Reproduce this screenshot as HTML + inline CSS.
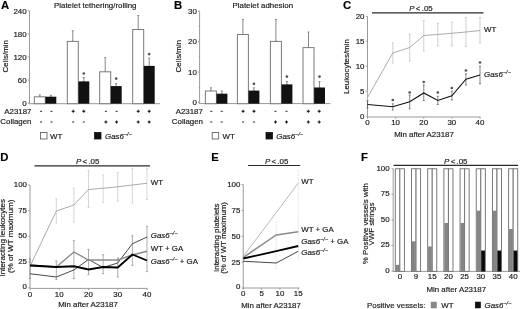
<!DOCTYPE html>
<html><head><meta charset="utf-8"><style>
html,body{margin:0;padding:0;background:#fff;width:520px;height:309px;overflow:hidden}
svg{display:block;will-change:transform}
text{font-family:"Liberation Sans",sans-serif;stroke:#1a1a1a;stroke-width:0.18px}
</style></head><body>
<svg width="520" height="309" viewBox="0 0 520 309">
<rect width="520" height="309" fill="#fff"/>
<text x="1.1" y="8.8" font-size="11.3" text-anchor="start" font-weight="bold" font-style="normal" fill="#000" >A</text>
<text x="54" y="8.3" font-size="7.9" text-anchor="start" font-weight="normal" font-style="normal" fill="#1a1a1a" >Platelet tethering/rolling</text>
<line x1="29.5" y1="10.8" x2="29.5" y2="104.2" stroke="#9a9a9a" stroke-width="1" />
<line x1="29.5" y1="103.7" x2="159.9" y2="103.7" stroke="#9a9a9a" stroke-width="1" />
<line x1="27.8" y1="103.2" x2="29.5" y2="103.2" stroke="#9a9a9a" stroke-width="1" />
<text x="26.6" y="106.0" font-size="7.9" text-anchor="end" font-weight="normal" font-style="normal" fill="#1a1a1a" >0</text>
<line x1="27.8" y1="80.1" x2="29.5" y2="80.1" stroke="#9a9a9a" stroke-width="1" />
<text x="26.6" y="82.89999999999999" font-size="7.9" text-anchor="end" font-weight="normal" font-style="normal" fill="#1a1a1a" >60</text>
<line x1="27.8" y1="57.0" x2="29.5" y2="57.0" stroke="#9a9a9a" stroke-width="1" />
<text x="26.6" y="59.8" font-size="7.9" text-anchor="end" font-weight="normal" font-style="normal" fill="#1a1a1a" >120</text>
<line x1="27.8" y1="33.900000000000006" x2="29.5" y2="33.900000000000006" stroke="#9a9a9a" stroke-width="1" />
<text x="26.6" y="36.7" font-size="7.9" text-anchor="end" font-weight="normal" font-style="normal" fill="#1a1a1a" >180</text>
<line x1="27.8" y1="10.799999999999997" x2="29.5" y2="10.799999999999997" stroke="#9a9a9a" stroke-width="1" />
<text x="26.6" y="13.599999999999998" font-size="7.9" text-anchor="end" font-weight="normal" font-style="normal" fill="#1a1a1a" >240</text>
<text transform="translate(7.9,56.3) rotate(-90)" font-size="7.9" text-anchor="middle" fill="#1a1a1a">Cells/min</text>
<line x1="39.8" y1="94.9" x2="39.8" y2="96.8" stroke="#888" stroke-width="1.0" />
<line x1="38.8" y1="94.9" x2="40.8" y2="94.9" stroke="#888" stroke-width="1.0" />
<line x1="38.8" y1="96.8" x2="40.8" y2="96.8" stroke="#888" stroke-width="1.0" />
<rect x="34.3" y="96.8" width="11.0" height="6.900000000000006" fill="#fff" stroke="#7a7a7a" stroke-width="1.0"/>
<line x1="50.8" y1="95.3" x2="50.8" y2="97.1" stroke="#888" stroke-width="1.0" />
<line x1="49.8" y1="95.3" x2="51.8" y2="95.3" stroke="#888" stroke-width="1.0" />
<line x1="49.8" y1="97.1" x2="51.8" y2="97.1" stroke="#888" stroke-width="1.0" />
<rect x="45.4" y="96.69999999999999" width="10.9" height="7.000000000000009" fill="#111" stroke="none" stroke-width="0"/>
<line x1="72.8" y1="30.8" x2="72.8" y2="41.4" stroke="#888" stroke-width="1.0" />
<line x1="71.8" y1="30.8" x2="73.8" y2="30.8" stroke="#888" stroke-width="1.0" />
<line x1="71.8" y1="41.4" x2="73.8" y2="41.4" stroke="#888" stroke-width="1.0" />
<rect x="67.3" y="41.4" width="11.0" height="62.300000000000004" fill="#fff" stroke="#7a7a7a" stroke-width="1.0"/>
<line x1="83.8" y1="77.5" x2="83.8" y2="81.8" stroke="#888" stroke-width="1.0" />
<line x1="82.8" y1="77.5" x2="84.8" y2="77.5" stroke="#888" stroke-width="1.0" />
<line x1="82.8" y1="81.8" x2="84.8" y2="81.8" stroke="#888" stroke-width="1.0" />
<rect x="78.39999999999999" y="81.39999999999999" width="10.9" height="22.300000000000004" fill="#111" stroke="none" stroke-width="0"/>
<circle cx="83.8" cy="73.5" r="1.35" fill="#555"/>
<line x1="105.2" y1="57.7" x2="105.2" y2="71.8" stroke="#888" stroke-width="1.0" />
<line x1="104.2" y1="57.7" x2="106.2" y2="57.7" stroke="#888" stroke-width="1.0" />
<line x1="104.2" y1="71.8" x2="106.2" y2="71.8" stroke="#888" stroke-width="1.0" />
<rect x="99.7" y="71.8" width="11.0" height="31.900000000000006" fill="#fff" stroke="#7a7a7a" stroke-width="1.0"/>
<line x1="116.2" y1="83.6" x2="116.2" y2="86.5" stroke="#888" stroke-width="1.0" />
<line x1="115.2" y1="83.6" x2="117.2" y2="83.6" stroke="#888" stroke-width="1.0" />
<line x1="115.2" y1="86.5" x2="117.2" y2="86.5" stroke="#888" stroke-width="1.0" />
<rect x="110.8" y="86.1" width="10.9" height="17.6" fill="#111" stroke="none" stroke-width="0"/>
<circle cx="116.2" cy="78.6" r="1.35" fill="#555"/>
<line x1="138.2" y1="15.6" x2="138.2" y2="29.5" stroke="#888" stroke-width="1.0" />
<line x1="137.2" y1="15.6" x2="139.2" y2="15.6" stroke="#888" stroke-width="1.0" />
<line x1="137.2" y1="29.5" x2="139.2" y2="29.5" stroke="#888" stroke-width="1.0" />
<rect x="132.7" y="29.5" width="11.0" height="74.2" fill="#fff" stroke="#7a7a7a" stroke-width="1.0"/>
<line x1="149.2" y1="58.2" x2="149.2" y2="66.3" stroke="#888" stroke-width="1.0" />
<line x1="148.2" y1="58.2" x2="150.2" y2="58.2" stroke="#888" stroke-width="1.0" />
<line x1="148.2" y1="66.3" x2="150.2" y2="66.3" stroke="#888" stroke-width="1.0" />
<rect x="143.79999999999998" y="65.89999999999999" width="10.9" height="37.800000000000004" fill="#111" stroke="none" stroke-width="0"/>
<circle cx="149.2" cy="54.1" r="1.35" fill="#555"/>
<text x="31.5" y="113.8" font-size="7.9" text-anchor="end" font-weight="normal" font-style="normal" fill="#1a1a1a" >A23187</text>
<text x="31.5" y="123.6" font-size="7.9" text-anchor="end" font-weight="normal" font-style="normal" fill="#1a1a1a" >Collagen</text>
<line x1="40.1" y1="111.3" x2="42.1" y2="111.3" stroke="#222" stroke-width="1.0" />
<line x1="40.1" y1="122.0" x2="42.1" y2="122.0" stroke="#222" stroke-width="1.0" />
<line x1="50.5" y1="111.3" x2="52.5" y2="111.3" stroke="#222" stroke-width="1.0" />
<line x1="50.5" y1="122.0" x2="52.5" y2="122.0" stroke="#222" stroke-width="1.0" />
<line x1="71.7" y1="111.3" x2="74.7" y2="111.3" stroke="#111" stroke-width="1.05" />
<line x1="73.2" y1="109.8" x2="73.2" y2="112.8" stroke="#111" stroke-width="1.05" />
<line x1="72.2" y1="122.0" x2="74.2" y2="122.0" stroke="#222" stroke-width="1.0" />
<line x1="82.3" y1="111.3" x2="85.3" y2="111.3" stroke="#111" stroke-width="1.05" />
<line x1="83.8" y1="109.8" x2="83.8" y2="112.8" stroke="#111" stroke-width="1.05" />
<line x1="82.8" y1="122.0" x2="84.8" y2="122.0" stroke="#222" stroke-width="1.0" />
<line x1="104.9" y1="111.3" x2="106.9" y2="111.3" stroke="#222" stroke-width="1.0" />
<line x1="104.4" y1="122.0" x2="107.4" y2="122.0" stroke="#111" stroke-width="1.05" />
<line x1="105.9" y1="120.5" x2="105.9" y2="123.5" stroke="#111" stroke-width="1.05" />
<line x1="115.6" y1="111.3" x2="117.6" y2="111.3" stroke="#222" stroke-width="1.0" />
<line x1="115.1" y1="122.0" x2="118.1" y2="122.0" stroke="#111" stroke-width="1.05" />
<line x1="116.6" y1="120.5" x2="116.6" y2="123.5" stroke="#111" stroke-width="1.05" />
<line x1="136.7" y1="111.3" x2="139.7" y2="111.3" stroke="#111" stroke-width="1.05" />
<line x1="138.2" y1="109.8" x2="138.2" y2="112.8" stroke="#111" stroke-width="1.05" />
<line x1="136.7" y1="122.0" x2="139.7" y2="122.0" stroke="#111" stroke-width="1.05" />
<line x1="138.2" y1="120.5" x2="138.2" y2="123.5" stroke="#111" stroke-width="1.05" />
<line x1="147.7" y1="111.3" x2="150.7" y2="111.3" stroke="#111" stroke-width="1.05" />
<line x1="149.2" y1="109.8" x2="149.2" y2="112.8" stroke="#111" stroke-width="1.05" />
<line x1="147.7" y1="122.0" x2="150.7" y2="122.0" stroke="#111" stroke-width="1.05" />
<line x1="149.2" y1="120.5" x2="149.2" y2="123.5" stroke="#111" stroke-width="1.05" />
<rect x="40.5" y="132.5" width="6.5" height="6.5" fill="#fff" stroke="#555" stroke-width="0.8"/>
<text x="50" y="138.8" font-size="7.9" text-anchor="start" font-weight="normal" font-style="normal" fill="#1a1a1a" >WT</text>
<rect x="94.5" y="132.5" width="6.5" height="6.5" fill="#111" stroke="#111" stroke-width="0.8"/>
<text x="105" y="138.8" font-size="7.9" text-anchor="start" fill="#1a1a1a"><tspan font-style="italic">Gas6</tspan><tspan font-style="italic" font-size="5.53" dy="-3">−/−</tspan><tspan dy="3"></tspan></text>
<text x="174.0" y="9.0" font-size="11.3" text-anchor="start" font-weight="bold" font-style="normal" fill="#000" >B</text>
<text x="232.5" y="8.3" font-size="7.9" text-anchor="start" font-weight="normal" font-style="normal" fill="#1a1a1a" >Platelet adhesion</text>
<line x1="199.6" y1="11.1" x2="199.6" y2="104.1" stroke="#9a9a9a" stroke-width="1" />
<line x1="199.6" y1="103.6" x2="330.4" y2="103.6" stroke="#9a9a9a" stroke-width="1" />
<line x1="197.9" y1="102.6" x2="199.6" y2="102.6" stroke="#9a9a9a" stroke-width="1" />
<text x="196.9" y="105.39999999999999" font-size="7.9" text-anchor="end" font-weight="normal" font-style="normal" fill="#1a1a1a" >0</text>
<line x1="197.9" y1="72.1" x2="199.6" y2="72.1" stroke="#9a9a9a" stroke-width="1" />
<text x="196.9" y="74.89999999999999" font-size="7.9" text-anchor="end" font-weight="normal" font-style="normal" fill="#1a1a1a" >10</text>
<line x1="197.9" y1="41.599999999999994" x2="199.6" y2="41.599999999999994" stroke="#9a9a9a" stroke-width="1" />
<text x="196.9" y="44.39999999999999" font-size="7.9" text-anchor="end" font-weight="normal" font-style="normal" fill="#1a1a1a" >20</text>
<line x1="197.9" y1="11.099999999999994" x2="199.6" y2="11.099999999999994" stroke="#9a9a9a" stroke-width="1" />
<text x="196.9" y="13.899999999999995" font-size="7.9" text-anchor="end" font-weight="normal" font-style="normal" fill="#1a1a1a" >30</text>
<line x1="198.6" y1="87.35" x2="199.6" y2="87.35" stroke="#9a9a9a" stroke-width="1" />
<line x1="198.6" y1="56.849999999999994" x2="199.6" y2="56.849999999999994" stroke="#9a9a9a" stroke-width="1" />
<line x1="198.6" y1="26.349999999999994" x2="199.6" y2="26.349999999999994" stroke="#9a9a9a" stroke-width="1" />
<text transform="translate(180.6,56.2) rotate(-90)" font-size="7.9" text-anchor="middle" fill="#1a1a1a">Cells/min</text>
<line x1="210.9" y1="87.8" x2="210.9" y2="91.0" stroke="#888" stroke-width="1.0" />
<line x1="209.9" y1="87.8" x2="211.9" y2="87.8" stroke="#888" stroke-width="1.0" />
<line x1="209.9" y1="91.0" x2="211.9" y2="91.0" stroke="#888" stroke-width="1.0" />
<rect x="205.4" y="91.0" width="11.0" height="12.700000000000003" fill="#fff" stroke="#7a7a7a" stroke-width="1.0"/>
<line x1="221.9" y1="91.0" x2="221.9" y2="94.1" stroke="#888" stroke-width="1.0" />
<line x1="220.9" y1="91.0" x2="222.9" y2="91.0" stroke="#888" stroke-width="1.0" />
<line x1="220.9" y1="94.1" x2="222.9" y2="94.1" stroke="#888" stroke-width="1.0" />
<rect x="216.5" y="93.69999999999999" width="10.9" height="10.000000000000009" fill="#111" stroke="none" stroke-width="0"/>
<line x1="242.9" y1="19.4" x2="242.9" y2="34.5" stroke="#888" stroke-width="1.0" />
<line x1="241.9" y1="19.4" x2="243.9" y2="19.4" stroke="#888" stroke-width="1.0" />
<line x1="241.9" y1="34.5" x2="243.9" y2="34.5" stroke="#888" stroke-width="1.0" />
<rect x="237.4" y="34.5" width="11.0" height="69.2" fill="#fff" stroke="#7a7a7a" stroke-width="1.0"/>
<line x1="253.9" y1="87.8" x2="253.9" y2="91.0" stroke="#888" stroke-width="1.0" />
<line x1="252.9" y1="87.8" x2="254.9" y2="87.8" stroke="#888" stroke-width="1.0" />
<line x1="252.9" y1="91.0" x2="254.9" y2="91.0" stroke="#888" stroke-width="1.0" />
<rect x="248.5" y="90.6" width="10.9" height="13.100000000000003" fill="#111" stroke="none" stroke-width="0"/>
<circle cx="253.9" cy="83.8" r="1.35" fill="#555"/>
<line x1="275.9" y1="19.4" x2="275.9" y2="41.4" stroke="#888" stroke-width="1.0" />
<line x1="274.9" y1="19.4" x2="276.9" y2="19.4" stroke="#888" stroke-width="1.0" />
<line x1="274.9" y1="41.4" x2="276.9" y2="41.4" stroke="#888" stroke-width="1.0" />
<rect x="270.4" y="41.4" width="11.0" height="62.300000000000004" fill="#fff" stroke="#7a7a7a" stroke-width="1.0"/>
<line x1="286.9" y1="81.6" x2="286.9" y2="84.8" stroke="#888" stroke-width="1.0" />
<line x1="285.9" y1="81.6" x2="287.9" y2="81.6" stroke="#888" stroke-width="1.0" />
<line x1="285.9" y1="84.8" x2="287.9" y2="84.8" stroke="#888" stroke-width="1.0" />
<rect x="281.5" y="84.39999999999999" width="10.9" height="19.300000000000004" fill="#111" stroke="none" stroke-width="0"/>
<circle cx="286.9" cy="76.6" r="1.35" fill="#555"/>
<line x1="308.5" y1="32.0" x2="308.5" y2="47.6" stroke="#888" stroke-width="1.0" />
<line x1="307.5" y1="32.0" x2="309.5" y2="32.0" stroke="#888" stroke-width="1.0" />
<line x1="307.5" y1="47.6" x2="309.5" y2="47.6" stroke="#888" stroke-width="1.0" />
<rect x="303.0" y="47.6" width="11.0" height="56.1" fill="#fff" stroke="#7a7a7a" stroke-width="1.0"/>
<line x1="319.5" y1="81.6" x2="319.5" y2="87.9" stroke="#888" stroke-width="1.0" />
<line x1="318.5" y1="81.6" x2="320.5" y2="81.6" stroke="#888" stroke-width="1.0" />
<line x1="318.5" y1="87.9" x2="320.5" y2="87.9" stroke="#888" stroke-width="1.0" />
<rect x="314.1" y="87.5" width="10.9" height="16.199999999999996" fill="#111" stroke="none" stroke-width="0"/>
<circle cx="319.5" cy="76.6" r="1.35" fill="#555"/>
<text x="202.9" y="113.8" font-size="7.9" text-anchor="end" font-weight="normal" font-style="normal" fill="#1a1a1a" >A23187</text>
<text x="203.0" y="123.6" font-size="7.9" text-anchor="end" font-weight="normal" font-style="normal" fill="#1a1a1a" >Collagen</text>
<line x1="210.3" y1="111.3" x2="212.3" y2="111.3" stroke="#222" stroke-width="1.0" />
<line x1="210.3" y1="122.0" x2="212.3" y2="122.0" stroke="#222" stroke-width="1.0" />
<line x1="220.7" y1="111.3" x2="222.7" y2="111.3" stroke="#222" stroke-width="1.0" />
<line x1="220.7" y1="122.0" x2="222.7" y2="122.0" stroke="#222" stroke-width="1.0" />
<line x1="241.6" y1="111.3" x2="244.6" y2="111.3" stroke="#111" stroke-width="1.05" />
<line x1="243.1" y1="109.8" x2="243.1" y2="112.8" stroke="#111" stroke-width="1.05" />
<line x1="242.1" y1="122.0" x2="244.1" y2="122.0" stroke="#222" stroke-width="1.0" />
<line x1="252.5" y1="111.3" x2="255.5" y2="111.3" stroke="#111" stroke-width="1.05" />
<line x1="254.0" y1="109.8" x2="254.0" y2="112.8" stroke="#111" stroke-width="1.05" />
<line x1="253.0" y1="122.0" x2="255.0" y2="122.0" stroke="#222" stroke-width="1.0" />
<line x1="274.5" y1="111.3" x2="276.5" y2="111.3" stroke="#222" stroke-width="1.0" />
<line x1="274.0" y1="122.0" x2="277.0" y2="122.0" stroke="#111" stroke-width="1.05" />
<line x1="275.5" y1="120.5" x2="275.5" y2="123.5" stroke="#111" stroke-width="1.05" />
<line x1="285.5" y1="111.3" x2="287.5" y2="111.3" stroke="#222" stroke-width="1.0" />
<line x1="285.0" y1="122.0" x2="288.0" y2="122.0" stroke="#111" stroke-width="1.05" />
<line x1="286.5" y1="120.5" x2="286.5" y2="123.5" stroke="#111" stroke-width="1.05" />
<line x1="306.8" y1="111.3" x2="309.8" y2="111.3" stroke="#111" stroke-width="1.05" />
<line x1="308.3" y1="109.8" x2="308.3" y2="112.8" stroke="#111" stroke-width="1.05" />
<line x1="306.8" y1="122.0" x2="309.8" y2="122.0" stroke="#111" stroke-width="1.05" />
<line x1="308.3" y1="120.5" x2="308.3" y2="123.5" stroke="#111" stroke-width="1.05" />
<line x1="317.7" y1="111.3" x2="320.7" y2="111.3" stroke="#111" stroke-width="1.05" />
<line x1="319.2" y1="109.8" x2="319.2" y2="112.8" stroke="#111" stroke-width="1.05" />
<line x1="317.7" y1="122.0" x2="320.7" y2="122.0" stroke="#111" stroke-width="1.05" />
<line x1="319.2" y1="120.5" x2="319.2" y2="123.5" stroke="#111" stroke-width="1.05" />
<rect x="212.2" y="132.5" width="6.5" height="6.5" fill="#fff" stroke="#555" stroke-width="0.8"/>
<text x="222.5" y="138.8" font-size="7.9" text-anchor="start" font-weight="normal" font-style="normal" fill="#1a1a1a" >WT</text>
<rect x="266" y="132.5" width="6.5" height="6.5" fill="#111" stroke="#111" stroke-width="0.8"/>
<text x="276.3" y="138.8" font-size="7.9" text-anchor="start" fill="#1a1a1a"><tspan font-style="italic">Gas6</tspan><tspan font-style="italic" font-size="5.53" dy="-3">−/−</tspan><tspan dy="3"></tspan></text>
<text x="343.0" y="8.9" font-size="11.3" text-anchor="start" font-weight="bold" font-style="normal" fill="#000" >C</text>
<text x="421" y="10.9" font-size="7.9" text-anchor="middle" fill="#1a1a1a" word-spacing="-0.9"><tspan font-style="italic">P</tspan> &lt; .05</text>
<line x1="372" y1="12.8" x2="483.5" y2="12.8" stroke="#2a2a2a" stroke-width="1.2" />
<line x1="367.5" y1="16.25" x2="367.5" y2="117.3" stroke="#9a9a9a" stroke-width="1" />
<line x1="367.5" y1="117" x2="480.5" y2="117" stroke="#9a9a9a" stroke-width="1" />
<line x1="365.8" y1="116.25" x2="367.5" y2="116.25" stroke="#9a9a9a" stroke-width="1" />
<text x="364.5" y="119.05" font-size="7.9" text-anchor="end" font-weight="normal" font-style="normal" fill="#1a1a1a" >0</text>
<line x1="365.8" y1="91.25" x2="367.5" y2="91.25" stroke="#9a9a9a" stroke-width="1" />
<text x="364.5" y="94.05" font-size="7.9" text-anchor="end" font-weight="normal" font-style="normal" fill="#1a1a1a" >5</text>
<line x1="365.8" y1="66.25" x2="367.5" y2="66.25" stroke="#9a9a9a" stroke-width="1" />
<text x="364.5" y="69.05" font-size="7.9" text-anchor="end" font-weight="normal" font-style="normal" fill="#1a1a1a" >10</text>
<line x1="365.8" y1="41.25" x2="367.5" y2="41.25" stroke="#9a9a9a" stroke-width="1" />
<text x="364.5" y="44.05" font-size="7.9" text-anchor="end" font-weight="normal" font-style="normal" fill="#1a1a1a" >15</text>
<line x1="365.8" y1="16.25" x2="367.5" y2="16.25" stroke="#9a9a9a" stroke-width="1" />
<text x="364.5" y="19.05" font-size="7.9" text-anchor="end" font-weight="normal" font-style="normal" fill="#1a1a1a" >20</text>
<line x1="367.5" y1="117" x2="367.5" y2="118.7" stroke="#9a9a9a" stroke-width="1" />
<text x="367.5" y="125" font-size="7.9" text-anchor="middle" font-weight="normal" font-style="normal" fill="#1a1a1a" >0</text>
<line x1="395.625" y1="117" x2="395.625" y2="118.7" stroke="#9a9a9a" stroke-width="1" />
<text x="395.625" y="125" font-size="7.9" text-anchor="middle" font-weight="normal" font-style="normal" fill="#1a1a1a" >10</text>
<line x1="423.75" y1="117" x2="423.75" y2="118.7" stroke="#9a9a9a" stroke-width="1" />
<text x="423.75" y="125" font-size="7.9" text-anchor="middle" font-weight="normal" font-style="normal" fill="#1a1a1a" >20</text>
<line x1="451.875" y1="117" x2="451.875" y2="118.7" stroke="#9a9a9a" stroke-width="1" />
<text x="451.875" y="125" font-size="7.9" text-anchor="middle" font-weight="normal" font-style="normal" fill="#1a1a1a" >30</text>
<line x1="480.0" y1="117" x2="480.0" y2="118.7" stroke="#9a9a9a" stroke-width="1" />
<text x="480.0" y="125" font-size="7.9" text-anchor="middle" font-weight="normal" font-style="normal" fill="#1a1a1a" >40</text>
<text x="424" y="136.5" font-size="7.9" text-anchor="middle" font-weight="normal" font-style="normal" fill="#1a1a1a" >Min after A23187</text>
<text transform="translate(349.3,66.6) rotate(-90)" font-size="7.9" text-anchor="middle" fill="#1a1a1a">Leukocytes/min</text>
<line x1="367.5" y1="90" x2="367.5" y2="100" stroke="#bbb" stroke-width="0.7" />
<line x1="366.5" y1="90" x2="368.5" y2="90" stroke="#bbb" stroke-width="0.7" />
<line x1="366.5" y1="100" x2="368.5" y2="100" stroke="#bbb" stroke-width="0.7" />
<line x1="392.8125" y1="43" x2="392.8125" y2="63" stroke="#bbb" stroke-width="0.7" />
<line x1="391.8125" y1="43" x2="393.8125" y2="43" stroke="#bbb" stroke-width="0.7" />
<line x1="391.8125" y1="63" x2="393.8125" y2="63" stroke="#bbb" stroke-width="0.7" />
<line x1="409.6875" y1="34.5" x2="409.6875" y2="61.25" stroke="#bbb" stroke-width="0.7" />
<line x1="408.6875" y1="34.5" x2="410.6875" y2="34.5" stroke="#bbb" stroke-width="0.7" />
<line x1="408.6875" y1="61.25" x2="410.6875" y2="61.25" stroke="#bbb" stroke-width="0.7" />
<line x1="423.75" y1="20.5" x2="423.75" y2="51.25" stroke="#bbb" stroke-width="0.7" />
<line x1="422.75" y1="20.5" x2="424.75" y2="20.5" stroke="#bbb" stroke-width="0.7" />
<line x1="422.75" y1="51.25" x2="424.75" y2="51.25" stroke="#bbb" stroke-width="0.7" />
<line x1="437.8125" y1="23.25" x2="437.8125" y2="45.75" stroke="#bbb" stroke-width="0.7" />
<line x1="436.8125" y1="23.25" x2="438.8125" y2="23.25" stroke="#bbb" stroke-width="0.7" />
<line x1="436.8125" y1="45.75" x2="438.8125" y2="45.75" stroke="#bbb" stroke-width="0.7" />
<line x1="451.875" y1="22" x2="451.875" y2="45.75" stroke="#bbb" stroke-width="0.7" />
<line x1="450.875" y1="22" x2="452.875" y2="22" stroke="#bbb" stroke-width="0.7" />
<line x1="450.875" y1="45.75" x2="452.875" y2="45.75" stroke="#bbb" stroke-width="0.7" />
<line x1="465.9375" y1="17.5" x2="465.9375" y2="46.5" stroke="#bbb" stroke-width="0.7" />
<line x1="464.9375" y1="17.5" x2="466.9375" y2="17.5" stroke="#bbb" stroke-width="0.7" />
<line x1="464.9375" y1="46.5" x2="466.9375" y2="46.5" stroke="#bbb" stroke-width="0.7" />
<line x1="480.0" y1="17.5" x2="480.0" y2="43" stroke="#bbb" stroke-width="0.7" />
<line x1="479.0" y1="17.5" x2="481.0" y2="17.5" stroke="#bbb" stroke-width="0.7" />
<line x1="479.0" y1="43" x2="481.0" y2="43" stroke="#bbb" stroke-width="0.7" />
<polyline points="367.50,97.50 392.81,53.00 409.69,47.50 423.75,35.50 437.81,34.50 451.88,33.25 465.94,32.00 480.00,30.50" fill="none" stroke="#a3a3a3" stroke-width="0.9" stroke-linejoin="miter"/>
<line x1="367.5" y1="101" x2="367.5" y2="108" stroke="#555" stroke-width="0.7" />
<line x1="366.5" y1="101" x2="368.5" y2="101" stroke="#555" stroke-width="0.7" />
<line x1="366.5" y1="108" x2="368.5" y2="108" stroke="#555" stroke-width="0.7" />
<line x1="392.8125" y1="103.75" x2="392.8125" y2="110" stroke="#555" stroke-width="0.7" />
<line x1="391.8125" y1="103.75" x2="393.8125" y2="103.75" stroke="#555" stroke-width="0.7" />
<line x1="391.8125" y1="110" x2="393.8125" y2="110" stroke="#555" stroke-width="0.7" />
<circle cx="392.8125" cy="100" r="1.35" fill="#555"/>
<line x1="409.6875" y1="95" x2="409.6875" y2="108.75" stroke="#555" stroke-width="0.7" />
<line x1="408.6875" y1="95" x2="410.6875" y2="95" stroke="#555" stroke-width="0.7" />
<line x1="408.6875" y1="108.75" x2="410.6875" y2="108.75" stroke="#555" stroke-width="0.7" />
<circle cx="409.6875" cy="92.5" r="1.35" fill="#555"/>
<line x1="423.75" y1="85" x2="423.75" y2="100.5" stroke="#555" stroke-width="0.7" />
<line x1="422.75" y1="85" x2="424.75" y2="85" stroke="#555" stroke-width="0.7" />
<line x1="422.75" y1="100.5" x2="424.75" y2="100.5" stroke="#555" stroke-width="0.7" />
<circle cx="423.75" cy="82" r="1.35" fill="#555"/>
<line x1="437.8125" y1="96.25" x2="437.8125" y2="104.5" stroke="#555" stroke-width="0.7" />
<line x1="436.8125" y1="96.25" x2="438.8125" y2="96.25" stroke="#555" stroke-width="0.7" />
<line x1="436.8125" y1="104.5" x2="438.8125" y2="104.5" stroke="#555" stroke-width="0.7" />
<circle cx="437.8125" cy="92.5" r="1.35" fill="#555"/>
<line x1="451.875" y1="91.25" x2="451.875" y2="100" stroke="#555" stroke-width="0.7" />
<line x1="450.875" y1="91.25" x2="452.875" y2="91.25" stroke="#555" stroke-width="0.7" />
<line x1="450.875" y1="100" x2="452.875" y2="100" stroke="#555" stroke-width="0.7" />
<circle cx="451.875" cy="88" r="1.35" fill="#555"/>
<line x1="465.9375" y1="73.75" x2="465.9375" y2="85" stroke="#555" stroke-width="0.7" />
<line x1="464.9375" y1="73.75" x2="466.9375" y2="73.75" stroke="#555" stroke-width="0.7" />
<line x1="464.9375" y1="85" x2="466.9375" y2="85" stroke="#555" stroke-width="0.7" />
<circle cx="465.9375" cy="70.5" r="1.35" fill="#555"/>
<line x1="480.0" y1="66.25" x2="480.0" y2="83.75" stroke="#555" stroke-width="0.7" />
<line x1="479.0" y1="66.25" x2="481.0" y2="66.25" stroke="#555" stroke-width="0.7" />
<line x1="479.0" y1="83.75" x2="481.0" y2="83.75" stroke="#555" stroke-width="0.7" />
<circle cx="480.0" cy="62.5" r="1.35" fill="#555"/>
<polyline points="367.50,104.50 392.81,106.75 409.69,101.75 423.75,93.00 437.81,100.50 451.88,95.75 465.94,79.25 480.00,75.00" fill="none" stroke="#111" stroke-width="1.1" stroke-linejoin="miter"/>
<text x="484" y="31.5" font-size="7.9" text-anchor="start" font-weight="normal" font-style="normal" fill="#1a1a1a" >WT</text>
<text x="484" y="76.5" font-size="7.9" text-anchor="start" fill="#1a1a1a"><tspan font-style="italic">Gas6</tspan><tspan font-style="italic" font-size="5.53" dy="-3">−/−</tspan><tspan dy="3"></tspan></text>
<text x="0.3" y="160.6" font-size="11.3" text-anchor="start" font-weight="bold" font-style="normal" fill="#000" >D</text>
<text x="87.7" y="163.9" font-size="7.9" text-anchor="middle" fill="#1a1a1a" word-spacing="-0.9"><tspan font-style="italic">P</tspan> &lt; .05</text>
<line x1="34.5" y1="165.8" x2="150" y2="165.8" stroke="#2a2a2a" stroke-width="1.2" />
<line x1="30" y1="185.0" x2="30" y2="288.3" stroke="#9a9a9a" stroke-width="1" />
<line x1="30" y1="288.4" x2="147.5" y2="288.4" stroke="#9a9a9a" stroke-width="1" />
<line x1="28.3" y1="287.8" x2="30" y2="287.8" stroke="#9a9a9a" stroke-width="1" />
<text x="27.0" y="289.40000000000003" font-size="7.9" text-anchor="end" font-weight="normal" font-style="normal" fill="#1a1a1a" >0</text>
<line x1="28.3" y1="262.1" x2="30" y2="262.1" stroke="#9a9a9a" stroke-width="1" />
<text x="27.0" y="264.1" font-size="7.9" text-anchor="end" font-weight="normal" font-style="normal" fill="#1a1a1a" >25</text>
<line x1="28.3" y1="236.4" x2="30" y2="236.4" stroke="#9a9a9a" stroke-width="1" />
<text x="27.0" y="238.4" font-size="7.9" text-anchor="end" font-weight="normal" font-style="normal" fill="#1a1a1a" >50</text>
<line x1="28.3" y1="210.7" x2="30" y2="210.7" stroke="#9a9a9a" stroke-width="1" />
<text x="27.0" y="212.7" font-size="7.9" text-anchor="end" font-weight="normal" font-style="normal" fill="#1a1a1a" >75</text>
<line x1="28.3" y1="185.0" x2="30" y2="185.0" stroke="#9a9a9a" stroke-width="1" />
<text x="27.0" y="187.0" font-size="7.9" text-anchor="end" font-weight="normal" font-style="normal" fill="#1a1a1a" >100</text>
<line x1="30.0" y1="288.4" x2="30.0" y2="290" stroke="#9a9a9a" stroke-width="1" />
<text x="30.0" y="296.9" font-size="7.9" text-anchor="middle" font-weight="normal" font-style="normal" fill="#1a1a1a" >0</text>
<line x1="59.25" y1="288.4" x2="59.25" y2="290" stroke="#9a9a9a" stroke-width="1" />
<text x="59.25" y="296.9" font-size="7.9" text-anchor="middle" font-weight="normal" font-style="normal" fill="#1a1a1a" >10</text>
<line x1="88.5" y1="288.4" x2="88.5" y2="290" stroke="#9a9a9a" stroke-width="1" />
<text x="88.5" y="296.9" font-size="7.9" text-anchor="middle" font-weight="normal" font-style="normal" fill="#1a1a1a" >20</text>
<line x1="117.75" y1="288.4" x2="117.75" y2="290" stroke="#9a9a9a" stroke-width="1" />
<text x="117.75" y="296.9" font-size="7.9" text-anchor="middle" font-weight="normal" font-style="normal" fill="#1a1a1a" >30</text>
<line x1="147.0" y1="288.4" x2="147.0" y2="290" stroke="#9a9a9a" stroke-width="1" />
<text x="147.0" y="296.9" font-size="7.9" text-anchor="middle" font-weight="normal" font-style="normal" fill="#1a1a1a" >40</text>
<text x="88" y="307.3" font-size="7.9" text-anchor="middle" font-weight="normal" font-style="normal" fill="#1a1a1a" >Min after A23187</text>
<text transform="translate(5.2,237.8) rotate(-90)" font-size="8.0" text-anchor="middle" fill="#1a1a1a">Interacting leukocytes</text>
<text transform="translate(12.8,236.3) rotate(-90)" font-size="8.1" text-anchor="middle" fill="#1a1a1a">(% of WT maximum)</text>
<line x1="30.0" y1="258" x2="30.0" y2="275" stroke="#c4c4c4" stroke-width="0.7" />
<line x1="29.0" y1="258" x2="31.0" y2="258" stroke="#c4c4c4" stroke-width="0.7" />
<line x1="29.0" y1="275" x2="31.0" y2="275" stroke="#c4c4c4" stroke-width="0.7" />
<line x1="30.0" y1="259" x2="30.0" y2="278.5" stroke="#8a8a8a" stroke-width="0.7" />
<line x1="28.9" y1="259" x2="31.1" y2="259" stroke="#8a8a8a" stroke-width="0.7" />
<line x1="28.9" y1="278.5" x2="31.1" y2="278.5" stroke="#8a8a8a" stroke-width="0.7" />
<line x1="56.325" y1="198.75" x2="56.325" y2="223" stroke="#c4c4c4" stroke-width="0.7" />
<line x1="55.325" y1="198.75" x2="57.325" y2="198.75" stroke="#c4c4c4" stroke-width="0.7" />
<line x1="55.325" y1="223" x2="57.325" y2="223" stroke="#c4c4c4" stroke-width="0.7" />
<line x1="56.325" y1="261" x2="56.325" y2="279.5" stroke="#8a8a8a" stroke-width="0.7" />
<line x1="55.225" y1="261" x2="57.425000000000004" y2="261" stroke="#8a8a8a" stroke-width="0.7" />
<line x1="55.225" y1="279.5" x2="57.425000000000004" y2="279.5" stroke="#8a8a8a" stroke-width="0.7" />
<line x1="73.875" y1="188.25" x2="73.875" y2="222" stroke="#c4c4c4" stroke-width="0.7" />
<line x1="72.875" y1="188.25" x2="74.875" y2="188.25" stroke="#c4c4c4" stroke-width="0.7" />
<line x1="72.875" y1="222" x2="74.875" y2="222" stroke="#c4c4c4" stroke-width="0.7" />
<line x1="73.875" y1="240.7" x2="73.875" y2="278.5" stroke="#8a8a8a" stroke-width="0.7" />
<line x1="72.775" y1="240.7" x2="74.975" y2="240.7" stroke="#8a8a8a" stroke-width="0.7" />
<line x1="72.775" y1="278.5" x2="74.975" y2="278.5" stroke="#8a8a8a" stroke-width="0.7" />
<line x1="88.5" y1="170.5" x2="88.5" y2="207.5" stroke="#c4c4c4" stroke-width="0.7" />
<line x1="87.5" y1="170.5" x2="89.5" y2="170.5" stroke="#c4c4c4" stroke-width="0.7" />
<line x1="87.5" y1="207.5" x2="89.5" y2="207.5" stroke="#c4c4c4" stroke-width="0.7" />
<line x1="88.5" y1="249.4" x2="88.5" y2="274.7" stroke="#8a8a8a" stroke-width="0.7" />
<line x1="87.4" y1="249.4" x2="89.6" y2="249.4" stroke="#8a8a8a" stroke-width="0.7" />
<line x1="87.4" y1="274.7" x2="89.6" y2="274.7" stroke="#8a8a8a" stroke-width="0.7" />
<line x1="103.125" y1="175" x2="103.125" y2="202.5" stroke="#c4c4c4" stroke-width="0.7" />
<line x1="102.125" y1="175" x2="104.125" y2="175" stroke="#c4c4c4" stroke-width="0.7" />
<line x1="102.125" y1="202.5" x2="104.125" y2="202.5" stroke="#c4c4c4" stroke-width="0.7" />
<line x1="103.125" y1="254.7" x2="103.125" y2="273.7" stroke="#8a8a8a" stroke-width="0.7" />
<line x1="102.025" y1="254.7" x2="104.225" y2="254.7" stroke="#8a8a8a" stroke-width="0.7" />
<line x1="102.025" y1="273.7" x2="104.225" y2="273.7" stroke="#8a8a8a" stroke-width="0.7" />
<line x1="117.75" y1="172.5" x2="117.75" y2="201.25" stroke="#c4c4c4" stroke-width="0.7" />
<line x1="116.75" y1="172.5" x2="118.75" y2="172.5" stroke="#c4c4c4" stroke-width="0.7" />
<line x1="116.75" y1="201.25" x2="118.75" y2="201.25" stroke="#c4c4c4" stroke-width="0.7" />
<line x1="117.75" y1="258" x2="117.75" y2="277" stroke="#8a8a8a" stroke-width="0.7" />
<line x1="116.65" y1="258" x2="118.85" y2="258" stroke="#8a8a8a" stroke-width="0.7" />
<line x1="116.65" y1="277" x2="118.85" y2="277" stroke="#8a8a8a" stroke-width="0.7" />
<line x1="132.375" y1="168.25" x2="132.375" y2="203" stroke="#c4c4c4" stroke-width="0.7" />
<line x1="131.375" y1="168.25" x2="133.375" y2="168.25" stroke="#c4c4c4" stroke-width="0.7" />
<line x1="131.375" y1="203" x2="133.375" y2="203" stroke="#c4c4c4" stroke-width="0.7" />
<line x1="132.375" y1="235.8" x2="132.375" y2="265.3" stroke="#8a8a8a" stroke-width="0.7" />
<line x1="131.275" y1="235.8" x2="133.475" y2="235.8" stroke="#8a8a8a" stroke-width="0.7" />
<line x1="131.275" y1="265.3" x2="133.475" y2="265.3" stroke="#8a8a8a" stroke-width="0.7" />
<line x1="147.0" y1="168.25" x2="147.0" y2="199.5" stroke="#c4c4c4" stroke-width="0.7" />
<line x1="146.0" y1="168.25" x2="148.0" y2="168.25" stroke="#c4c4c4" stroke-width="0.7" />
<line x1="146.0" y1="199.5" x2="148.0" y2="199.5" stroke="#c4c4c4" stroke-width="0.7" />
<line x1="147.0" y1="226.3" x2="147.0" y2="271.6" stroke="#8a8a8a" stroke-width="0.7" />
<line x1="145.9" y1="226.3" x2="148.1" y2="226.3" stroke="#8a8a8a" stroke-width="0.7" />
<line x1="145.9" y1="271.6" x2="148.1" y2="271.6" stroke="#8a8a8a" stroke-width="0.7" />
<polyline points="30.00,266.25 56.33,211.00 73.88,205.00 88.50,189.50 103.12,188.25 117.75,186.75 132.38,185.00 147.00,183.25" fill="none" stroke="#a0a0a0" stroke-width="0.9" stroke-linejoin="miter"/>
<polyline points="30.00,273.75 56.33,277.00 73.88,270.00 88.50,259.50 103.12,267.50 117.75,263.00 132.38,243.75 147.00,237.00" fill="none" stroke="#333" stroke-width="0.9" stroke-linejoin="miter"/>
<polyline points="30.00,265.00 56.33,267.00 73.88,252.00 88.50,260.00 103.12,260.00 117.75,260.00 132.38,255.00 147.00,251.25" fill="none" stroke="#8a8a8a" stroke-width="1.35" stroke-linejoin="miter"/>
<polyline points="30.00,265.50 56.33,267.00 73.88,266.25 88.50,269.50 103.12,267.00 117.75,267.50 132.38,254.50 147.00,260.50" fill="none" stroke="#000" stroke-width="1.8" stroke-linejoin="miter"/>
<text x="150.75" y="184.8" font-size="7.9" text-anchor="start" font-weight="normal" font-style="normal" fill="#1a1a1a" >WT</text>
<text x="150.75" y="237.8" font-size="7.9" text-anchor="start" fill="#1a1a1a"><tspan font-style="italic">Gas6</tspan><tspan font-style="italic" font-size="5.53" dy="-3">−/−</tspan><tspan dy="3"></tspan></text>
<text x="150.75" y="251" font-size="7.9" text-anchor="start" font-weight="normal" font-style="normal" fill="#1a1a1a" >WT + GA</text>
<text x="150.75" y="264.3" font-size="7.9" text-anchor="start" fill="#1a1a1a"><tspan font-style="italic">Gas6</tspan><tspan font-style="italic" font-size="5.53" dy="-3">−/−</tspan><tspan dy="3"> + GA</tspan></text>
<text x="211.2" y="160.6" font-size="11.3" text-anchor="start" font-weight="bold" font-style="normal" fill="#000" >E</text>
<text x="276.6" y="163.7" font-size="7.9" text-anchor="middle" fill="#1a1a1a" word-spacing="-0.9"><tspan font-style="italic">P</tspan> &lt; .05</text>
<line x1="248" y1="165.5" x2="300.2" y2="165.5" stroke="#2a2a2a" stroke-width="1.2" />
<line x1="243.25" y1="184.5" x2="243.25" y2="288.3" stroke="#9a9a9a" stroke-width="1" />
<line x1="243.25" y1="288" x2="299.5" y2="288" stroke="#9a9a9a" stroke-width="1" />
<line x1="241.6" y1="288.0" x2="243.25" y2="288.0" stroke="#9a9a9a" stroke-width="1" />
<text x="240.3" y="289.1" font-size="7.9" text-anchor="end" font-weight="normal" font-style="normal" fill="#1a1a1a" >0</text>
<line x1="241.6" y1="262.125" x2="243.25" y2="262.125" stroke="#9a9a9a" stroke-width="1" />
<text x="240.3" y="264.925" font-size="7.9" text-anchor="end" font-weight="normal" font-style="normal" fill="#1a1a1a" >25</text>
<line x1="241.6" y1="236.25" x2="243.25" y2="236.25" stroke="#9a9a9a" stroke-width="1" />
<text x="240.3" y="239.05" font-size="7.9" text-anchor="end" font-weight="normal" font-style="normal" fill="#1a1a1a" >50</text>
<line x1="241.6" y1="210.375" x2="243.25" y2="210.375" stroke="#9a9a9a" stroke-width="1" />
<text x="240.3" y="213.175" font-size="7.9" text-anchor="end" font-weight="normal" font-style="normal" fill="#1a1a1a" >75</text>
<line x1="241.6" y1="184.5" x2="243.25" y2="184.5" stroke="#9a9a9a" stroke-width="1" />
<text x="240.3" y="187.3" font-size="7.9" text-anchor="end" font-weight="normal" font-style="normal" fill="#1a1a1a" >100</text>
<line x1="243.25" y1="288" x2="243.25" y2="289.7" stroke="#9a9a9a" stroke-width="1" />
<text x="243.25" y="296.3" font-size="7.9" text-anchor="middle" font-weight="normal" font-style="normal" fill="#1a1a1a" >0</text>
<line x1="261.5833333333333" y1="288" x2="261.5833333333333" y2="289.7" stroke="#9a9a9a" stroke-width="1" />
<text x="261.5833333333333" y="296.3" font-size="7.9" text-anchor="middle" font-weight="normal" font-style="normal" fill="#1a1a1a" >5</text>
<line x1="279.9166666666667" y1="288" x2="279.9166666666667" y2="289.7" stroke="#9a9a9a" stroke-width="1" />
<text x="279.9166666666667" y="296.3" font-size="7.9" text-anchor="middle" font-weight="normal" font-style="normal" fill="#1a1a1a" >10</text>
<line x1="298.25" y1="288" x2="298.25" y2="289.7" stroke="#9a9a9a" stroke-width="1" />
<text x="298.25" y="296.3" font-size="7.9" text-anchor="middle" font-weight="normal" font-style="normal" fill="#1a1a1a" >15</text>
<text x="271" y="307.8" font-size="7.9" text-anchor="middle" font-weight="normal" font-style="normal" fill="#1a1a1a" >Min after A23187</text>
<text transform="translate(219.3,237.7) rotate(-90)" font-size="7.9" text-anchor="middle" fill="#1a1a1a">Interacting platelets</text>
<text transform="translate(226.2,237.9) rotate(-90)" font-size="7.9" text-anchor="middle" fill="#1a1a1a">(% of WT maximum)</text>
<line x1="243.25" y1="253" x2="243.25" y2="266" stroke="#c8c8c8" stroke-width="0.7" stroke-dasharray="1.2,1.2"/>
<line x1="276.25" y1="222" x2="276.25" y2="270" stroke="#c8c8c8" stroke-width="0.7" stroke-dasharray="1.2,1.2"/>
<line x1="298.25" y1="170" x2="298.25" y2="260" stroke="#c8c8c8" stroke-width="0.7" stroke-dasharray="1.2,1.2"/>
<polyline points="243.25,256.40 276.25,212.60 298.25,183.00" fill="none" stroke="#b0b0b0" stroke-width="0.9" stroke-linejoin="miter"/>
<polyline points="243.25,261.25 276.25,263.00 298.25,251.25" fill="none" stroke="#333" stroke-width="0.9" stroke-linejoin="miter"/>
<polyline points="243.25,257.50 276.25,234.90 298.25,231.80" fill="none" stroke="#8a8a8a" stroke-width="1.5" stroke-linejoin="miter"/>
<polyline points="243.25,258.50 276.25,251.20 298.25,246.00" fill="none" stroke="#000" stroke-width="1.8" stroke-linejoin="miter"/>
<text x="301.25" y="184" font-size="7.9" text-anchor="start" font-weight="normal" font-style="normal" fill="#1a1a1a" >WT</text>
<text x="301.25" y="231.5" font-size="7.9" text-anchor="start" font-weight="normal" font-style="normal" fill="#1a1a1a" >WT + GA</text>
<text x="301.25" y="243.5" font-size="7.9" text-anchor="start" fill="#1a1a1a"><tspan font-style="italic">Gas6</tspan><tspan font-style="italic" font-size="5.53" dy="-3">−/−</tspan><tspan dy="3"> + GA</tspan></text>
<text x="301.25" y="254.8" font-size="7.9" text-anchor="start" fill="#1a1a1a"><tspan font-style="italic">Gas6</tspan><tspan font-style="italic" font-size="5.53" dy="-3">−/−</tspan><tspan dy="3"></tspan></text>
<text x="361.0" y="160.6" font-size="11.3" text-anchor="start" font-weight="bold" font-style="normal" fill="#000" >F</text>
<text x="455.8" y="163.8" font-size="7.9" text-anchor="middle" fill="#1a1a1a" word-spacing="-0.9"><tspan font-style="italic">P</tspan> &lt; .05</text>
<line x1="393.6" y1="165.3" x2="518.1" y2="165.3" stroke="#2a2a2a" stroke-width="1.2" />
<line x1="393.2" y1="168.75" x2="393.2" y2="271.8" stroke="#9a9a9a" stroke-width="1" />
<line x1="393.2" y1="271.4" x2="520" y2="271.4" stroke="#9a9a9a" stroke-width="1" />
<line x1="391.5" y1="271.0" x2="393.2" y2="271.0" stroke="#9a9a9a" stroke-width="1" />
<text x="389.6" y="273.0" font-size="7.9" text-anchor="end" font-weight="normal" font-style="normal" fill="#1a1a1a" >0</text>
<line x1="391.5" y1="245.4375" x2="393.2" y2="245.4375" stroke="#9a9a9a" stroke-width="1" />
<text x="389.6" y="247.4375" font-size="7.9" text-anchor="end" font-weight="normal" font-style="normal" fill="#1a1a1a" >25</text>
<line x1="391.5" y1="219.875" x2="393.2" y2="219.875" stroke="#9a9a9a" stroke-width="1" />
<text x="389.6" y="221.875" font-size="7.9" text-anchor="end" font-weight="normal" font-style="normal" fill="#1a1a1a" >50</text>
<line x1="391.5" y1="194.3125" x2="393.2" y2="194.3125" stroke="#9a9a9a" stroke-width="1" />
<text x="389.6" y="196.3125" font-size="7.9" text-anchor="end" font-weight="normal" font-style="normal" fill="#1a1a1a" >75</text>
<line x1="391.5" y1="168.75" x2="393.2" y2="168.75" stroke="#9a9a9a" stroke-width="1" />
<text x="389.6" y="170.75" font-size="7.9" text-anchor="end" font-weight="normal" font-style="normal" fill="#1a1a1a" >100</text>
<rect x="395.3" y="168.75" width="4.55" height="102.64999999999998" fill="#fff" stroke="#737373" stroke-width="0.95"/>
<rect x="395.7" y="264.865" width="3.75" height="6.534999999999968" fill="#858585"/>
<rect x="399.85" y="168.75" width="4.55" height="102.64999999999998" fill="#fff" stroke="#737373" stroke-width="0.95"/>
<text x="399.85" y="279.3" font-size="7.9" text-anchor="middle" font-weight="normal" font-style="normal" fill="#1a1a1a" >0</text>
<rect x="411.49" y="168.75" width="4.55" height="102.64999999999998" fill="#fff" stroke="#737373" stroke-width="0.95"/>
<rect x="411.89" y="241.3475" width="3.75" height="30.05249999999998" fill="#858585"/>
<rect x="416.04" y="168.75" width="4.55" height="102.64999999999998" fill="#fff" stroke="#737373" stroke-width="0.95"/>
<text x="416.04" y="279.3" font-size="7.9" text-anchor="middle" font-weight="normal" font-style="normal" fill="#1a1a1a" >9</text>
<rect x="427.68" y="168.75" width="4.55" height="102.64999999999998" fill="#fff" stroke="#737373" stroke-width="0.95"/>
<rect x="428.08" y="246.46" width="3.75" height="24.93999999999997" fill="#858585"/>
<rect x="432.23" y="168.75" width="4.55" height="102.64999999999998" fill="#fff" stroke="#737373" stroke-width="0.95"/>
<text x="432.23" y="279.3" font-size="7.9" text-anchor="middle" font-weight="normal" font-style="normal" fill="#1a1a1a" >15</text>
<rect x="443.87" y="168.75" width="4.55" height="102.64999999999998" fill="#fff" stroke="#737373" stroke-width="0.95"/>
<rect x="444.27" y="222.9425" width="3.75" height="48.45749999999998" fill="#858585"/>
<rect x="448.42" y="168.75" width="4.55" height="102.64999999999998" fill="#fff" stroke="#737373" stroke-width="0.95"/>
<text x="448.42" y="279.3" font-size="7.9" text-anchor="middle" font-weight="normal" font-style="normal" fill="#1a1a1a" >20</text>
<rect x="460.06" y="168.75" width="4.55" height="102.64999999999998" fill="#fff" stroke="#737373" stroke-width="0.95"/>
<rect x="460.46" y="222.9425" width="3.75" height="48.45749999999998" fill="#858585"/>
<rect x="464.61" y="168.75" width="4.55" height="102.64999999999998" fill="#fff" stroke="#737373" stroke-width="0.95"/>
<text x="464.61" y="279.3" font-size="7.9" text-anchor="middle" font-weight="normal" font-style="normal" fill="#1a1a1a" >25</text>
<rect x="476.25" y="168.75" width="4.55" height="102.64999999999998" fill="#fff" stroke="#737373" stroke-width="0.95"/>
<rect x="476.65" y="210.6725" width="3.75" height="60.727499999999964" fill="#858585"/>
<rect x="480.8" y="168.75" width="4.55" height="102.64999999999998" fill="#fff" stroke="#737373" stroke-width="0.95"/>
<rect x="481.2" y="250.55" width="3.75" height="20.849999999999966" fill="#0a0a0a"/>
<text x="480.8" y="279.3" font-size="7.9" text-anchor="middle" font-weight="normal" font-style="normal" fill="#1a1a1a" >30</text>
<rect x="492.44000000000005" y="168.75" width="4.55" height="102.64999999999998" fill="#fff" stroke="#737373" stroke-width="0.95"/>
<rect x="492.84000000000003" y="210.6725" width="3.75" height="60.727499999999964" fill="#858585"/>
<rect x="496.99000000000007" y="168.75" width="4.55" height="102.64999999999998" fill="#fff" stroke="#737373" stroke-width="0.95"/>
<rect x="497.39000000000004" y="250.55" width="3.75" height="20.849999999999966" fill="#0a0a0a"/>
<text x="496.99000000000007" y="279.3" font-size="7.9" text-anchor="middle" font-weight="normal" font-style="normal" fill="#1a1a1a" >35</text>
<rect x="508.63" y="168.75" width="4.55" height="102.64999999999998" fill="#fff" stroke="#737373" stroke-width="0.95"/>
<rect x="509.03" y="229.0775" width="3.75" height="42.32249999999999" fill="#858585"/>
<rect x="513.18" y="168.75" width="4.55" height="102.64999999999998" fill="#fff" stroke="#737373" stroke-width="0.95"/>
<rect x="513.5799999999999" y="250.55" width="3.75" height="20.849999999999966" fill="#0a0a0a"/>
<text x="513.18" y="279.3" font-size="7.9" text-anchor="middle" font-weight="normal" font-style="normal" fill="#1a1a1a" >40</text>
<text x="456.3" y="292.3" font-size="7.9" text-anchor="middle" font-weight="normal" font-style="normal" fill="#1a1a1a" >Min after A23187</text>
<text transform="translate(367.6,223.7) rotate(-90)" font-size="7.85" text-anchor="middle" fill="#1a1a1a">% Positive vessels with</text>
<text transform="translate(373.7,224.1) rotate(-90)" font-size="7.9" text-anchor="middle" fill="#1a1a1a">VWF strings</text>
<text x="367" y="307.8" font-size="7.9" text-anchor="start" font-weight="normal" font-style="normal" fill="#1a1a1a" >Positive vessels:</text>
<rect x="431" y="302" width="5.5" height="6" fill="#888" stroke="#888" stroke-width="0.5"/>
<text x="441.25" y="307.8" font-size="7.9" text-anchor="start" font-weight="normal" font-style="normal" fill="#1a1a1a" >WT</text>
<rect x="475.2" y="302" width="5.5" height="6" fill="#111" stroke="#111" stroke-width="0.5"/>
<text x="484.5" y="307.8" font-size="7.9" text-anchor="start" fill="#1a1a1a"><tspan font-style="italic">Gas6</tspan><tspan font-style="italic" font-size="5.53" dy="-3">−/−</tspan><tspan dy="3"></tspan></text>
</svg>
</body></html>
